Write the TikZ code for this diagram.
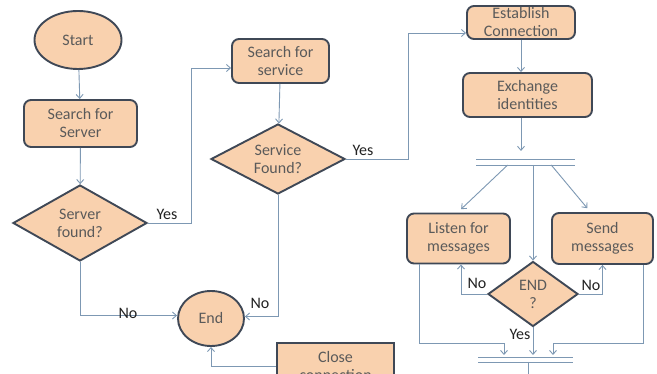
\documentclass[tikz,border=0pt]{standalone}
\usepackage{fontspec}
\setmainfont{Carlito}
\usetikzlibrary{shapes.geometric,arrows.meta,calc}
\definecolor{fillc}{HTML}{F9D1AE}
\definecolor{bordc}{HTML}{3F4856}
\definecolor{linec}{HTML}{7D98B3}
\definecolor{txtc}{HTML}{5A5A5A}
\definecolor{lblc}{HTML}{222222}
\tikzset{
 base/.style={draw=bordc, line width=1.9pt, fill=fillc, text=txtc, font=\fontsize{16}{18}\selectfont, align=center, inner sep=0pt},
 proc/.style={base, rectangle, rounded corners=7pt},
 term/.style={base, ellipse},
 dec/.style={base, diamond},
 arr/.style={draw=linec, line width=0.9pt, -{Straight Barb[length=4pt,width=7pt]}},
 ln/.style={draw=linec, line width=0.9pt},
 lbl/.style={text=lblc, font=\fontsize{16}{18}\selectfont, inner sep=0pt},
}
\begin{document}
\begin{tikzpicture}[x=1pt,y=-1pt]
\useasboundingbox (0,0) rectangle (657,374);
\clip (0,0) rectangle (657,374);
\fill[white] (0,0) rectangle (657,374);
% nodes
\node[term, minimum width=87pt, minimum height=58pt] (start) at (78,40) {Start};
\node[proc, minimum width=113pt, minimum height=47pt] (ssrv) at (80.5,123.5) {Search for\\Server};
\node[dec, aspect=1.76, minimum width=134pt, minimum height=76pt] (sf) at (80,223) {Server\\found?};
\node[proc, minimum width=97pt, minimum height=44pt] (ssvc) at (280.5,61) {Search for\\service};
\node[dec, aspect=1.9, minimum width=134pt, minimum height=70pt] (svf) at (278,159) {Service\\Found?};
\node[term, minimum width=66pt, minimum height=55pt] (end) at (211,318.5) {End};
\node[proc, rounded corners=0pt, line width=2.8pt, minimum width=117pt, minimum height=46pt] (close) at (335.5,366) {Close\\connection};
\node[proc, minimum width=108pt, minimum height=33pt] (est) at (521,22.5) {Establish\\Connection};
\node[proc, minimum width=129pt, minimum height=44pt] (exch) at (527.5,95) {Exchange\\identities};
\node[proc, minimum width=103pt, minimum height=50pt] (listen) at (458.5,238.5) {Listen for\\messages};
\node[proc, minimum width=101pt, minimum height=51pt] (send) at (602.5,238.5) {Send\\messages};
\node[dec, aspect=1.38, minimum width=90pt, minimum height=65pt] (endq) at (533,294) {END\\?};
% bars
\coordinate (b1l) at (476,159); \coordinate (b1r) at (575,159);
\coordinate (b2l) at (476,165); \coordinate (b2r) at (575,165);
\coordinate (c1l) at (478,357); \coordinate (c1r) at (573,357);
\coordinate (c2l) at (478,362); \coordinate (c2r) at (573,362);
\coordinate (inL) at (504,355); \coordinate (inR) at (553,355);
\coordinate (outB) at (528,362); \coordinate (outE) at (528,380);
\draw[ln] (b1l) -- (b1r);
\draw[ln] (b2l) -- (b2r);
\draw[ln] (c1l) -- (c1r);
\draw[ln] (c2l) -- (c2r);
\draw[ln] (outB) -- (outE);
% connectors
\draw[arr] (start) -- (ssrv);
\draw[arr] (ssrv) -- (sf);
\draw[arr] (sf.east) -- ++(43,0) |- ([yshift=-7pt]ssvc.west);
\draw[arr] (ssvc) -- (svf);
\draw[arr] (svf.east) -- ++(62,0) |- ([yshift=-10.5pt]est.west);
\draw[arr] (sf.south) |- ([yshift=3pt]end.west);
\draw[arr] (svf.south) |- ([yshift=2pt]end.east);
\draw[arr] (close.west) -| (end.south);
\draw[arr] (est.south) -- (est.south |- exch.north);
\draw[arr] (exch.south -| est.south) -- ++(0,33);
\draw[arr, shorten >=5pt] ($(b2l)!0.32!(b2r)$) -- ([xshift=-1pt]listen.north);
\draw[arr, shorten >=5pt] ($(b2l)!0.76!(b2r)$) -- ([xshift=-12pt]send.north);
\draw[arr] (endq.north |- b2l) -- (endq.north);
\draw[arr] (endq.west) -| ([xshift=2.5pt]listen.south);
\draw[arr] (endq.east) -| (send.south);
\draw[arr] ([xshift=-39.5pt]listen.south) |- ([yshift=12pt]inL) -- (inL);
\draw[arr] ([xshift=41pt]send.south) |- ([yshift=12pt]inR) -- (inR);
\draw[arr] (endq.south) -- (endq.south |- inL);
% labels
\node[lbl] (y1) at (167,214) {Yes};
\node[lbl] (n1) at (128,313) {No};
\node[lbl] (y2) at (363,150) {Yes};
\node[lbl] (n2) at (260,303) {No};
\node[lbl] (n3) at (477,283) {No};
\node[lbl] (n4) at (591,285) {No};
\node[lbl] (y3) at (520,334) {Yes};
\end{tikzpicture}
\end{document}
